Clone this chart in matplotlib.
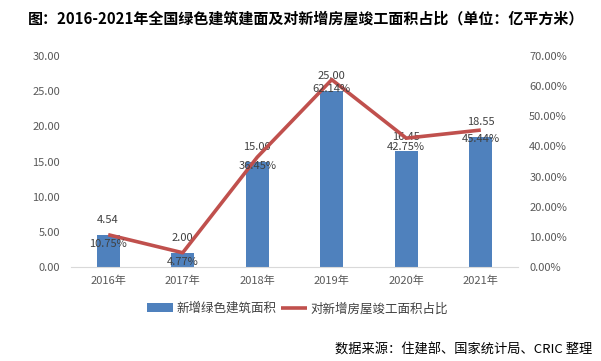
import numpy as np
from matplotlib import pyplot as plt
from matplotlib.ticker import FuncFormatter

plt.rcParams['font.family'] = ['Noto Sans CJK SC', 'DejaVu Sans']

years = ['2016年', '2017年', '2018年', '2019年', '2020年', '2021年']
green_area = [4.54, 2.00, 15.00, 25.00, 16.45, 18.55]
share_pct = [10.75, 4.77, 36.45, 62.14, 42.75, 45.44]

bar_color = '#4F81BD'
line_color = '#C0504D'
tick_color = '#595959'

fig = plt.figure(figsize=(6.01, 3.61), dpi=100)
ax = fig.add_axes([0.118, 0.26, 0.744, 0.585])
ax2 = ax.twinx()

x = np.arange(len(years))
ax.bar(x, green_area, width=0.31, color=bar_color, label='新增绿色建筑面积', zorder=2)
ax2.plot(x, share_pct, color=line_color, lw=2.6, label='对新增房屋竣工面积占比',
         solid_capstyle='butt', zorder=3)

ax.set_xlim(-0.5, len(years) - 0.5)
ax.set_ylim(0, 30)
ax2.set_ylim(0, 70)
ax.set_yticks(np.arange(0, 31, 5))
ax2.set_yticks(np.arange(0, 71, 10))
ax.yaxis.set_major_formatter(FuncFormatter(lambda v, p: f'{v:.2f}'))
ax2.yaxis.set_major_formatter(FuncFormatter(lambda v, p: f'{v:.2f}%'))
ax.set_xticks(x)
ax.set_xticklabels(years)

for a in (ax, ax2):
    for s in a.spines.values():
        s.set_visible(False)
    a.tick_params(length=0, labelsize=8, labelcolor=tick_color)
ax.spines['bottom'].set_visible(True)
ax.spines['bottom'].set_color('#D9D9D9')
ax.tick_params(axis='x', pad=6)
ax.tick_params(axis='y', pad=8)
ax2.tick_params(axis='y', pad=8)

for xi, v in zip(x, green_area):
    ax.annotate(f'{v:.2f}', (xi, v), xytext=(0, 7), textcoords='offset points',
                ha='center', va='bottom', fontsize=8, color='#404040', zorder=5)
for xi, v in zip(x, share_pct):
    ax2.annotate(f'{v:.2f}%', (xi, v), xytext=(0, -3), textcoords='offset points',
                 ha='center', va='top', fontsize=8, color='#404040', zorder=5)

h1, l1 = ax.get_legend_handles_labels()
h2, l2 = ax2.get_legend_handles_labels()
fig.legend(h1 + h2, l1 + l2, loc='center', bbox_to_anchor=(0.495, 0.145), ncol=2,
           frameon=False, fontsize=9, handlelength=2.1, columnspacing=0.3,
           handletextpad=0.3, labelcolor='#404040')

fig.text(0.51, 0.95, '图：2016-2021年全国绿色建筑建面及对新增房屋竣工面积占比（单位：亿平方米）',
         ha='center', va='center', fontsize=10.8, fontweight='bold')
fig.text(0.985, 0.03, '数据来源：住建部、国家统计局、CRIC 整理',
         ha='right', va='center', fontsize=9.5)

fig.savefig('out.png', dpi=100)
